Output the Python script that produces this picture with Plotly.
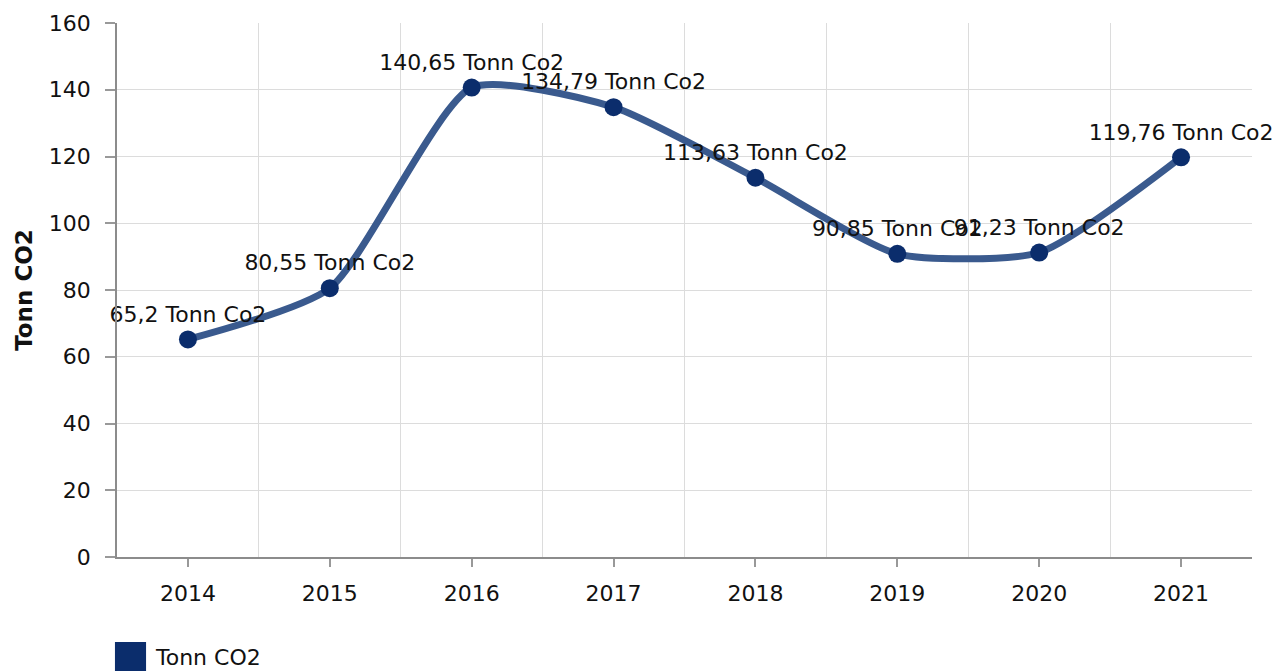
import plotly.graph_objects as go

years = ["2014", "2015", "2016", "2017", "2018", "2019", "2020", "2021"]
values = [65.2, 80.55, 140.65, 134.79, 113.63, 90.85, 91.23, 119.76]
label_unit = "Tonn Co2"
series_name = "Tonn CO2"
y_ticks = [0, 20, 40, 60, 80, 100, 120, 140, 160]

xs = list(range(len(years)))
labels = [f"{str(v).replace('.', ',')} {label_unit}" for v in values]

FONT = "DejaVu Sans, Verdana, sans-serif"

fig = go.Figure()
fig.add_trace(go.Scatter(
    x=xs, y=values,
    mode="lines+markers+text",
    line=dict(color="#3a5a8e", width=7, shape="spline", smoothing=0.6),
    marker=dict(color="#0b2d6c", size=18),
    text=labels,
    textposition="top center",
    textfont=dict(family=FONT, size=22, color="#111111"),
    name=series_name,
    showlegend=False,
    cliponaxis=False,
))

fig.update_layout(
    width=1275, height=671,
    margin=dict(l=117, r=23, t=23, b=114),
    plot_bgcolor="white", paper_bgcolor="white",
    font=dict(family=FONT, size=22, color="#111111"),
    xaxis=dict(
        range=[-0.5, len(years) - 0.5],
        tickmode="array", tickvals=xs, ticktext=years,
        showgrid=False, zeroline=False,
        showline=True, linecolor="#8c8c8c", linewidth=1.5,
        ticks="outside", ticklen=8, tickcolor="#999999", tickwidth=1.5,
        ticklabelstandoff=8,
        tickfont=dict(family=FONT, size=22, color="#111111"),
        minor=dict(tickvals=[i + 0.5 for i in xs], showgrid=True,
                   gridcolor="#dcdcdc", gridwidth=1, ticks=""),
        fixedrange=True,
    ),
    yaxis=dict(
        range=[0, 160],
        tickmode="array", tickvals=y_ticks,
        showgrid=True, gridcolor="#dcdcdc", gridwidth=1,
        zeroline=False,
        showline=True, linecolor="#8c8c8c", linewidth=1.5,
        ticks="outside", ticklen=10, tickcolor="#999999", tickwidth=1.5,
        ticklabelstandoff=10,
        tickfont=dict(family=FONT, size=22, color="#111111"),
        title=dict(text="<b>Tonn CO2</b>", font=dict(family=FONT, size=23, color="#111111"),
                   standoff=10),
        fixedrange=True,
    ),
    shapes=[
        dict(type="rect", xref="paper", yref="paper",
             x0=-0.0018, x1=0.0256, y0=-0.159, y1=-0.225,
             fillcolor="#0b2d6c", line=dict(width=0)),
    ],
    annotations=[
        dict(text=series_name, xref="paper", yref="paper",
             x=0.0317, y=-0.189, xanchor="left", yanchor="middle",
             showarrow=False, font=dict(family=FONT, size=22, color="#111111")),
    ],
)

fig.write_html("out.html", config={"displayModeBar": False},
               post_script="document.body.style.margin='0';")
